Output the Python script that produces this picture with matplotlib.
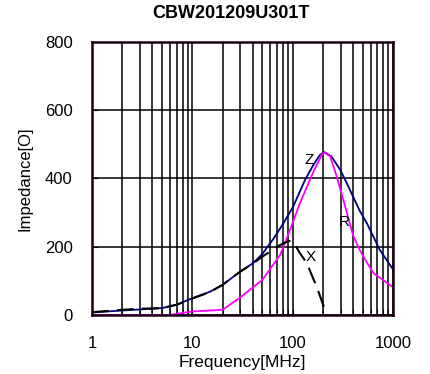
import numpy as np
import matplotlib.pyplot as plt
from matplotlib.ticker import FixedLocator, NullFormatter

plt.rcParams['font.family'] = ['Liberation Sans', 'DejaVu Sans']

# -----------------------------------------------------------
# DATA
# -----------------------------------------------------------
freq_z = [1, 2, 3, 5, 7, 10, 15, 20, 30, 40, 50, 65, 81, 101, 133, 161, 187, 207,
          244, 298, 346, 466, 550, 740, 980]
z_vals = [7, 13, 16, 20, 30, 49, 68, 88, 127, 151, 179, 225, 269, 317, 396, 440, 469, 477,
          464, 425, 386, 305, 268, 190, 137]

freq_r = [1, 3, 6, 8, 10, 15, 20, 30, 50, 75, 94, 118, 161, 195, 207, 237, 275, 334,
          401, 466, 520, 640, 980]
r_vals = [0, 0, 0, 6, 10, 13, 15, 51, 103, 176, 249, 327, 420, 469, 476, 464, 405, 317,
          232, 190, 165, 122, 83]

freq_x = [1, 2, 3, 5, 7, 10, 15, 20, 30, 40, 50, 75, 92, 101, 118, 138, 173, 219]
x_vals = [8, 15, 18, 20, 30, 48, 67, 88, 127, 150, 171, 205, 217, 215, 181, 152, 83, 0]

# -----------------------------------------------------------
# PLOT
# -----------------------------------------------------------
fig = plt.figure(figsize=(4.3, 3.74), dpi=100)
ax = fig.add_axes([0.214, 0.158, 0.7, 0.73])

ax.plot(freq_z, z_vals, color='#000080', linewidth=1.3)
ax.plot(freq_r, r_vals, color='#ff00ff', linewidth=1.3)
ax.plot(freq_x, x_vals, color='black', linewidth=1.5, dashes=(8, 4))

ax.set_xscale('log')
ax.set_xlim(1, 1000)
ax.set_ylim(0, 800)
ax.set_yticks([0, 200, 400, 600, 800])
ax.set_xticks([1, 10, 100, 1000])
ax.set_xticklabels(['1', '10', '100', '1000'])
minors = [m * 10 ** d for d in range(3) for m in range(2, 10)]
ax.xaxis.set_minor_locator(FixedLocator(minors))
ax.xaxis.set_minor_formatter(NullFormatter())

ax.grid(True, which='both', axis='x', color='black', linewidth=1.1)
ax.grid(True, which='major', axis='y', color='black', linewidth=1.1)
ax.set_axisbelow(True)

ax.tick_params(axis='both', which='both', direction='in', length=4, labelsize=12)
ax.tick_params(axis='x', pad=15)
ax.tick_params(axis='y', pad=14)
for s in ax.spines.values():
    s.set_linewidth(1.8)
    s.set_color('#1a0010')

ax.text(146, 454, 'Z', fontsize=11, ha='center', va='center')
ax.text(325, 272, 'R', fontsize=11, ha='center', va='center')
ax.text(152, 170, 'X', fontsize=11, ha='center', va='center')

fig.text(231 / 430, 1 - 14 / 374, 'CBW201209U301T', fontsize=13,
         fontweight='bold', ha='center', va='center')
ax.set_xlabel('Frequency[MHz]', fontsize=12.5, labelpad=3)
ax.set_ylabel('Impedance[O]', fontsize=12, labelpad=9)

fig.savefig('out.png', dpi=100)
